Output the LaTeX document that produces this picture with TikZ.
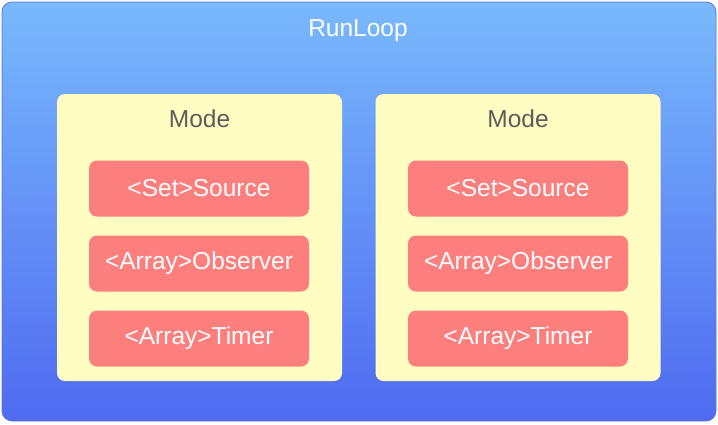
\documentclass[tikz,border=0pt]{standalone}
\usepackage{fontspec}
\setmainfont{Liberation Sans}
\definecolor{loopTop}{HTML}{79B9FD}
\definecolor{loopBottom}{HTML}{4F6AF0}
\definecolor{loopEdge}{HTML}{5A78D8}
\definecolor{modeFill}{HTML}{FFFDC1}
\definecolor{itemFill}{HTML}{FD7F7D}
\definecolor{modeText}{HTML}{5C5C5C}
\tikzset{
	loopbox/.style={draw=loopEdge, line width=0.8pt, top color=loopTop, bottom color=loopBottom, rounded corners=10pt, minimum width=714pt, minimum height=419pt, inner sep=0pt, outer sep=0pt},
	modebox/.style={fill=modeFill, rounded corners=8pt, minimum width=285pt, minimum height=287pt, inner sep=0pt, outer sep=0pt},
	itembox/.style={fill=itemFill, rounded corners=8pt, minimum width=220pt, minimum height=56pt, inner sep=0pt, text=white, font=\fontsize{24.5}{29}\selectfont},
	titletext/.style={font=\fontsize{24.5}{29}\selectfont}
}

\begin{document}
\begin{tikzpicture}[x=1pt, y=-1pt]
			%%%%% START %%%%%
			\useasboundingbox (0, 0) rectangle (718, 424);
			
			\node[loopbox] (runloop) at (359, 211.5) {};
			\node[titletext, text=white] (runloopTitle) at (358, 30.5) {RunLoop};
			
			% left mode
			\node[modebox] (modeL) at (199.5, 237.5) {};
			\node[titletext, text=modeText] (modeLTitle) at (199.5, 118.5) {Mode};
			\node[itembox] (sourceL) at (199, 188.5) {<Set>Source};
			\node[itembox] (observerL) at (199, 263.5) {<Array>Observer};
			\node[itembox] (timerL) at (199, 338.5) {<Array>Timer};
			
			% right mode
			\node[modebox] (modeR) at (518, 237.5) {};
			\node[titletext, text=modeText] (modeRTitle) at (518, 118.5) {Mode};
			\node[itembox] (sourceR) at (518, 188.5) {<Set>Source};
			\node[itembox] (observerR) at (518, 263.5) {<Array>Observer};
			\node[itembox] (timerR) at (518, 338.5) {<Array>Timer};
			
			%%%%% END %%%%%
\end{tikzpicture}
\end{document}
